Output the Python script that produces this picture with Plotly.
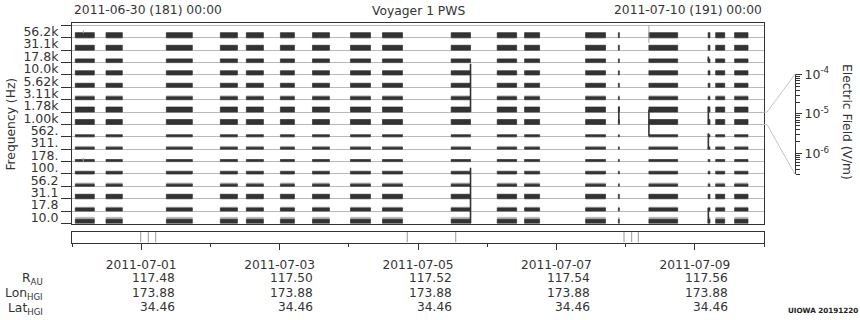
import math
import pandas as pd
import plotly.graph_objects as go

W, H = 860, 320

# ---------------- data ----------------
channel_labels = ["10.0", "17.8", "31.1", "56.2", "100.", "178.", "311.", "562.",
                  "1.00k", "1.78k", "3.11k", "5.62k", "10.0k", "17.8k", "31.1k", "56.2k"]
# dark band amplitude in each channel (fraction of the channel strip)
channel_level = [0.34, 0.26, 0.36, 0.18, 0.21, 0.17, 0.17, 0.17,
                 0.40, 0.41, 0.24, 0.33, 0.34, 0.30, 0.40, 0.42]
# fainter noise fringe top in each channel (fraction of the channel strip)
channel_noise = [0.50, 0.33, 0.36, 0.28, 0.25, 0.17, 0.23, 0.17,
                 0.40, 0.41, 0.32, 0.33, 0.34, 0.30, 0.40, 0.42]

block_start = ["2011-06-30 01:09", "2011-06-30 11:48", "2011-07-01 08:44", "2011-07-02 03:27",
               "2011-07-02 12:29", "2011-07-03 00:17", "2011-07-03 11:24", "2011-07-04 00:35",
               "2011-07-04 11:41", "2011-07-05 11:31", "2011-07-06 03:29", "2011-07-06 12:58",
               "2011-07-07 10:08", "2011-07-07 21:30", "2011-07-08 08:05", "2011-07-09 04:38",
               "2011-07-09 07:15", "2011-07-09 13:49"]
block_end = ["2011-06-30 07:44", "2011-06-30 17:27", "2011-07-01 17:44", "2011-07-02 09:22",
             "2011-07-02 18:23", "2011-07-03 05:08", "2011-07-03 17:17", "2011-07-04 07:31",
             "2011-07-04 18:37", "2011-07-05 18:13", "2011-07-06 10:12", "2011-07-06 18:10",
             "2011-07-07 17:02", "2011-07-07 21:50", "2011-07-08 18:03", "2011-07-09 05:15",
             "2011-07-09 10:22", "2011-07-09 18:27"]

spike_time = ["2011-07-05 18:13", "2011-07-05 18:13", "2011-07-07 21:40", "2011-07-08 08:05",
              "2011-07-09 04:42", "2011-07-09 04:42", "2011-07-09 04:42", "2011-07-09 04:42"]
spike_low = [9.0, 0.0, 8.1, 7.1, 8.0, 6.0, 0.0, 13.1]
spike_high = [12.9, 4.5, 9.45, 9.2, 9.45, 7.3, 1.25, 13.5]

faint_spike_time = ["2011-06-30 03:55", "2011-07-08 08:05", "2011-06-30 03:55"]
faint_spike_low = [15.36, 14.6, 5.0]
faint_spike_high = [15.6, 16.0, 5.3]

event_times = ["2011-06-30 23:50", "2011-07-01 02:28", "2011-07-01 05:02", "2011-07-04 20:17",
               "2011-07-05 13:05", "2011-07-07 23:27", "2011-07-08 02:07", "2011-07-08 04:24"]

eph_dates = ["2011-07-01", "2011-07-03", "2011-07-05", "2011-07-07", "2011-07-09"]
eph_r_au = ["117.48", "117.50", "117.52", "117.54", "117.56"]
eph_lon = ["173.88", "173.88", "173.88", "173.88", "173.88"]
eph_lat = ["34.46", "34.46", "34.46", "34.46", "34.46"]

field_ticks = [1e-6, 1e-5, 1e-4]
field_tick_text = ["10<sup>-6</sup>", "10<sup>-5</sup>", "10<sup>-4</sup>"]
field_minor = [3e-7, 4e-7, 5e-7, 6e-7, 7e-7, 8e-7, 9e-7,
               2e-6, 3e-6, 4e-6, 5e-6, 6e-6, 7e-6, 8e-6, 9e-6,
               2e-5, 3e-5, 4e-5, 5e-5, 6e-5, 7e-5, 8e-5, 9e-5]
field_range = [3e-7, 1e-4]
field_channel = 8  # the 1.00k strip is the scale reference

t_start, t_end = "2011-06-30 00:00", "2011-07-10 00:00"

# ---------------- layout helpers ----------------
FONT = "DejaVu Sans"
INK = "#333333"
BAR = "#333333"
GRID = "#b9b9b9"

def py(px):
    return 1 - px / H

X_DOM = [72 / W, 764 / W]
Y_DOM = [py(223.5), py(23)]
Y_RANGE = [0, 16.2]
STRIP_DOM = [py(242.5), py(231.5)]
F_DOM = [py(174.3), py(74.3)]
F_POS = 795 / W

fig = go.Figure()

# ---------------- bars ----------------
def rect_trace(levels, color):
    xs, ys = [], []
    for s, e in zip(block_start, block_end):
        for ch, lv in enumerate(levels):
            xs += [s, e, e, s, s, None]
            ys += [ch, ch, ch + lv, ch + lv, ch, None]
    return go.Scatter(x=xs, y=ys, mode="lines", fill="toself", fillcolor=color,
                      line=dict(color=color, width=0.6), hoverinfo="skip",
                      showlegend=False, xaxis="x", yaxis="y")

fig.add_trace(rect_trace(channel_noise, "#b3b3b3"))
fig.add_trace(rect_trace(channel_level, BAR))

def spike_trace(times, lows, highs, color, width):
    xs, ys = [], []
    for t, lo, hi in zip(times, lows, highs):
        xs += [t, t, None]
        ys += [lo, hi, None]
    return go.Scatter(x=xs, y=ys, mode="lines", line=dict(color=color, width=width),
                      hoverinfo="skip", showlegend=False, xaxis="x", yaxis="y")

fig.add_trace(spike_trace(faint_spike_time, faint_spike_low, faint_spike_high, "#a0a0a0", 1))
fig.add_trace(spike_trace(spike_time, spike_low, spike_high, BAR, 1.6))

# labels axis helper trace
fig.add_trace(go.Scatter(x=[None], y=[None], xaxis="x", yaxis="y2", showlegend=False))

# ---------------- event strip ----------------
ex, ey = [], []
for t in event_times:
    ex += [t, t, None]
    ey += [0, 1, None]
fig.add_trace(go.Scatter(x=ex, y=ey, mode="lines", line=dict(color="#999999", width=1),
                         hoverinfo="skip", showlegend=False, xaxis="x2", yaxis="y3"))

# field axis helper trace
fig.add_trace(go.Scatter(x=[None], y=[None], xaxis="x", yaxis="y4", showlegend=False))

# ---------------- layout ----------------
tickfont = dict(family=FONT, size=12.5, color=INK)
fig.update_layout(
    width=W, height=H, margin=dict(l=0, r=0, t=0, b=0, pad=0, autoexpand=False),
    paper_bgcolor="white", plot_bgcolor="rgba(0,0,0,0)", showlegend=False,
    xaxis=dict(domain=X_DOM, type="date", range=[t_start, t_end], anchor="y",
               showticklabels=False, ticks="", showgrid=False, zeroline=False, automargin=False,
               showline=True, mirror=True, linecolor=INK, linewidth=1),
    yaxis=dict(domain=Y_DOM, range=Y_RANGE, anchor="x", tickmode="array", automargin=False,
               tickvals=list(range(17)), ticks="outside", ticklen=10, tickcolor=INK,
               showticklabels=False, showgrid=True, gridcolor=GRID, gridwidth=1,
               zeroline=False, showline=True, mirror=True, linecolor=INK, linewidth=1),
    yaxis2=dict(overlaying="y", range=Y_RANGE, anchor="x", side="left", tickmode="array",
                tickvals=[i + 0.5 for i in range(16)], ticktext=channel_labels, automargin=False,
                ticks="outside", ticklen=10, tickcolor="rgba(0,0,0,0)",
                showgrid=False, zeroline=False, showline=False, tickfont=tickfont),
    xaxis2=dict(domain=X_DOM, type="date", range=[t_start, t_end], anchor="y3",
                tickmode="array", tickvals=eph_dates, ticktext=eph_dates, automargin=False,
                ticks="outside", ticklen=6, tickcolor=INK, tickfont=dict(family=FONT, size=12.2, color=INK),
                ticklabelstandoff=5,
                minor=dict(tickmode="linear", tick0=t_start, dtick=86400000, ticks="outside",
                           ticklen=3.5, tickcolor=INK, showgrid=False),
                showgrid=False, zeroline=False, showline=True, mirror=True,
                linecolor=INK, linewidth=1),
    yaxis3=dict(domain=STRIP_DOM, range=[0, 1], anchor="x2", showticklabels=False, automargin=False,
                ticks="", showgrid=False, zeroline=False, showline=True, mirror=True,
                linecolor=INK, linewidth=1),
    yaxis4=dict(domain=F_DOM, type="log", range=[math.log10(field_range[0]), math.log10(field_range[1])],
                anchor="free", position=F_POS, side="right", tickmode="array", automargin=False,
                tickvals=field_ticks, ticktext=field_tick_text, ticks="outside", ticklen=6,
                tickcolor=INK, tickfont=tickfont, showgrid=False, zeroline=False,
                showline=True, linecolor=INK, linewidth=1,
                minor=dict(tickmode="array", tickvals=field_minor, ticks="outside",
                           ticklen=4, tickcolor=INK, showgrid=False)),
)

# ---------------- connectors from the 1.00k strip to the field scale ----------------
def ch_to_paper(v):
    return Y_DOM[0] + (v - Y_RANGE[0]) / (Y_RANGE[1] - Y_RANGE[0]) * (Y_DOM[1] - Y_DOM[0])

def field_to_paper(f):
    lo, hi = math.log10(field_range[0]), math.log10(field_range[1])
    return F_DOM[0] + (math.log10(f) - lo) / (hi - lo) * (F_DOM[1] - F_DOM[0])

xa, xb, xc = X_DOM[1], 767 / W, F_POS
for chv, fv in [(field_channel + 1, field_range[1]), (field_channel, field_range[0])]:
    y0 = ch_to_paper(chv)
    y1 = field_to_paper(fv)
    fig.add_shape(type="path", xref="paper", yref="paper",
                  path=f"M {xa},{y0} L {xb},{y0} L {xc},{y1}",
                  line=dict(color="#c4c4c4", width=1))

# ---------------- annotations ----------------
def ann(text, x, y, xanchor="center", yanchor="middle", size=12.3, angle=0, xref="paper",
        xshift=0, weight=None, color=INK):
    fig.add_annotation(text=text, x=x, y=y, xref=xref, yref="paper", xanchor=xanchor,
                       yanchor=yanchor, showarrow=False, textangle=angle, xshift=xshift,
                       font=dict(family=FONT, size=size, color=color,
                                 weight=weight if weight else "normal"))

ann("2011-06-30 (181) 00:00", X_DOM[0], py(10), xanchor="left")
ann("Voyager 1 PWS", (X_DOM[0] + X_DOM[1]) / 2, py(11))
ann("2011-07-10 (191) 00:00", X_DOM[1], py(10), xanchor="right")
ann("Frequency (Hz)", 11 / W, py(124.6), angle=-90)
ann("Electric Field (V/m)", 847 / W, py(122), angle=90)

rows = [("R<sub>AU</sub>", eph_r_au, 277.5), ("Lon<sub>HGI</sub>", eph_lon, 292.5),
        ("Lat<sub>HGI</sub>", eph_lat, 307)]
for label, vals, ypx in rows:
    ann(label, 45 / W, py(ypx + 1.5), xanchor="right")
    for d, v in zip(eph_dates, vals):
        ann(v, d, py(ypx), xanchor="right", xref="x2", xshift=35.5, size=12.2)

ann("UIOWA 20191220", 1.0, py(310), xanchor="right", size=7.2, weight="bold", color="#222")

fig.write_html("out.html")
